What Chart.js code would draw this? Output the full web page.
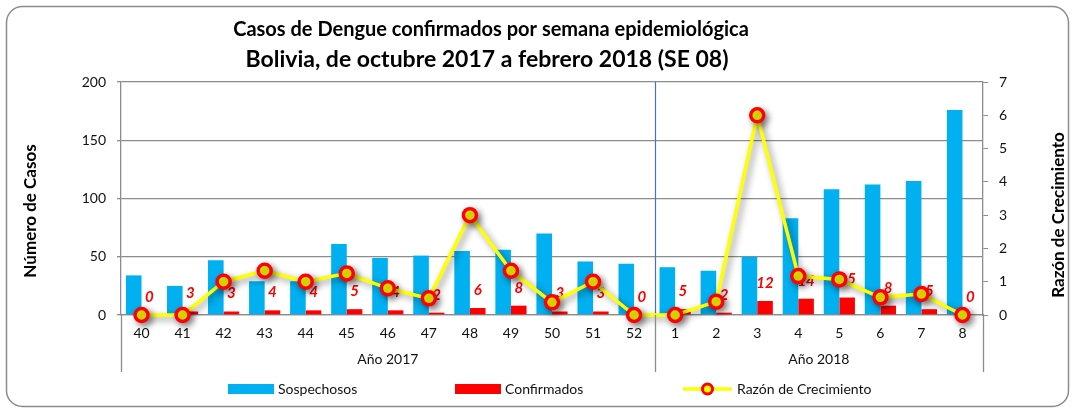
<!DOCTYPE html>
<html>
<head>
<meta charset="utf-8">
<script src="https://cdn.jsdelivr.net/npm/chart.js@4/dist/chart.umd.min.js"></script>
<style>
html,body{margin:0;padding:0;background:#fff;}
#wrap{width:1075px;height:410px;position:relative;}
</style>
</head>
<body>
<div id="wrap"><canvas id="c" width="1075" height="410"></canvas></div>
<script>
// ---- data ----
const weeks = ['40','41','42','43','44','45','46','47','48','49','50','51','52','1','2','3','4','5','6','7','8'];
const sospechosos = [34,25,47,29,29,61,49,51,55,56,70,46,44,41,38,50,83,108,112,115,176];
const confirmados = [0,3,3,4,4,5,4,2,6,8,3,3,0,5,2,12,14,15,8,5,0];
const razon = [0,0,1,1.33,1,1.25,0.8,0.5,3,1.33,0.38,1,0,0,0.4,6,1.17,1.07,0.53,0.63,0];
const yearGroups = [
  {label:'Año 2017', from:0, to:12},
  {label:'Año 2018', from:13, to:20}
];
const leftTicks = {min:0, max:200, step:50};
const rightTicks = {min:0, max:7, step:1};
const titleLines = ['Casos de Dengue confirmados por semana epidemiológica','Bolivia, de octubre 2017 a febrero 2018 (SE 08)'];
const yTitle = 'Número de Casos';
const y1Title = 'Razón de Crecimiento';

const FONT = 'Lato, "Liberation Sans", Arial, sans-serif';
const BLUE = '#00B0F0', RED = '#FF0000', YELLOW = '#FFFF00', GRID = '#8c8c8c', TXT = '#111';

const extras = {
  id: 'extras',
  beforeDraw(chart) {
    const ctx = chart.ctx;
    ctx.save();
    ctx.strokeStyle = '#8c8c8c';
    ctx.lineWidth = 1.5;
    ctx.beginPath();
    ctx.roundRect(6.5, 6.5, 1062, 400, 16);
    ctx.stroke();
    ctx.restore();
  },
  beforeDatasetsDraw(chart) {
    const ctx = chart.ctx, x = chart.scales.x, a = chart.chartArea;
    ctx.save();
    ctx.strokeStyle = '#4A72C0';
    ctx.lineWidth = 1.2;
    for (let g = 0; g < yearGroups.length - 1; g++) {
      const px = Math.round((x.getPixelForValue(yearGroups[g].to) + x.getPixelForValue(yearGroups[g+1].from)) / 2) + 0.5;
      ctx.beginPath(); ctx.moveTo(px, a.top); ctx.lineTo(px, a.bottom); ctx.stroke();
    }
    ctx.restore();
  },
  beforeDatasetDraw(chart, args) {
    if (args.index === 2) {
      const ctx = chart.ctx;
      const meta = chart.getDatasetMeta(1);
      ctx.save();
      ctx.fillStyle = RED;
      ctx.font = 'italic bold 15px ' + FONT;
      ctx.textAlign = 'center';
      ctx.textBaseline = 'middle';
      meta.data.forEach((bar, i) => {
        ctx.fillText(String(confirmados[i]), bar.x, bar.y - 18);
      });
      ctx.restore();
      ctx.save();
      ctx.shadowColor = 'rgba(0,0,0,0.45)';
      ctx.shadowBlur = 7;
      ctx.shadowOffsetX = 3;
      ctx.shadowOffsetY = 3;
    }
  },
  afterDatasetDraw(chart, args) {
    if (args.index === 2) chart.ctx.restore();
  },
  afterDraw(chart) {
    const ctx = chart.ctx, x = chart.scales.x, a = chart.chartArea;
    ctx.save();
    ctx.fillStyle = '#000';
    ctx.textAlign = 'center';
    ctx.textBaseline = 'middle';
    ctx.font = 'bold 20px ' + FONT;
    ctx.fillText(titleLines[0], 491, 30);
    ctx.font = 'bold 23px ' + FONT;
    ctx.fillText(titleLines[1], 487, 60);
    ctx.font = 'bold 17px ' + FONT;
    ctx.save(); ctx.translate(31, 211); ctx.rotate(-Math.PI/2); ctx.fillText(yTitle, 0, 0); ctx.restore();
    ctx.save(); ctx.translate(1059, 215); ctx.rotate(-Math.PI/2); ctx.fillText(y1Title, 0, 0); ctx.restore();
    ctx.strokeStyle = GRID; ctx.lineWidth = 1.3;
    const bounds = [a.left];
    for (let g = 0; g < yearGroups.length - 1; g++) {
      bounds.push((x.getPixelForValue(yearGroups[g].to) + x.getPixelForValue(yearGroups[g+1].from)) / 2);
    }
    bounds.push(a.right);
    bounds.forEach(b => {
      const px = Math.round(b) + 0.5;
      ctx.beginPath(); ctx.moveTo(px, a.bottom); ctx.lineTo(px, a.bottom + 57); ctx.stroke();
    });
    ctx.font = '14px ' + FONT;
    ctx.fillStyle = TXT;
    yearGroups.forEach((g, i) => {
      ctx.fillText(g.label, (bounds[i] + bounds[i+1]) / 2, 359);
    });
    const ly = 389;
    ctx.textAlign = 'left';
    ctx.font = '14px ' + FONT;
    const ds = chart.data.datasets;
    ctx.fillStyle = ds[0].backgroundColor; ctx.fillRect(228, ly - 5, 46, 10);
    ctx.fillStyle = TXT; ctx.fillText(ds[0].label, 278, ly);
    ctx.fillStyle = ds[1].backgroundColor; ctx.fillRect(455, ly - 5, 46, 10);
    ctx.fillStyle = TXT; ctx.fillText(ds[1].label, 505, ly);
    ctx.strokeStyle = ds[2].borderColor; ctx.lineWidth = 3.5;
    ctx.beginPath(); ctx.moveTo(683, ly); ctx.lineTo(732, ly); ctx.stroke();
    ctx.beginPath(); ctx.arc(707.5, ly, 5, 0, Math.PI*2);
    ctx.fillStyle = YELLOW; ctx.fill();
    ctx.strokeStyle = RED; ctx.lineWidth = 3; ctx.stroke();
    ctx.fillStyle = TXT; ctx.fillText(ds[2].label, 737, ly);
    ctx.restore();
  }
};

new Chart(document.getElementById('c'), {
  data: {
    labels: weeks,
    datasets: [
      { type:'bar', label:'Sospechosos', data:sospechosos, backgroundColor:BLUE, yAxisID:'y', order:1,
        categoryPercentage:0.76, barPercentage:1 },
      { type:'bar', label:'Confirmados', data:confirmados, backgroundColor:RED, yAxisID:'y', order:2,
        categoryPercentage:0.76, barPercentage:1 },
      { type:'line', label:'Razón de Crecimiento', data:razon, yAxisID:'y1', order:0,
        borderColor:YELLOW, borderWidth:3.5, pointRadius:6.5, pointBorderWidth:3.5,
        pointBackgroundColor:YELLOW, pointBorderColor:RED, tension:0, clip:false }
    ]
  },
  options: {
    responsive:false,
    animation:false,
    events:[],
    layout:{ padding:{ top:82, left:0, right:0, bottom:0 } },
    plugins:{ legend:{display:false}, tooltip:{enabled:false}, title:{display:false} },
    scales:{
      x:{
        grid:{display:false, drawTicks:false},
        border:{display:true, color:GRID, width:1.3},
        ticks:{color:TXT, font:{family:FONT, size:14}, padding:10, maxRotation:0, autoSkip:false},
        afterFit(s){ s.height = 95; }
      },
      y:{
        position:'left', min:leftTicks.min, max:leftTicks.max,
        ticks:{stepSize:leftTicks.step, color:TXT, font:{family:FONT, size:14}, padding:11},
        grid:{color:GRID, lineWidth:1.3, tickLength:4},
        border:{display:true, color:GRID, width:1.3},
        afterFit(s){ s.width = 121; }
      },
      y1:{
        position:'right', min:rightTicks.min, max:rightTicks.max,
        ticks:{stepSize:rightTicks.step, color:TXT, font:{family:FONT, size:14}, padding:11},
        grid:{drawOnChartArea:false, color:GRID, tickLength:5},
        border:{display:true, color:GRID, width:1.3},
        afterFit(s){ s.width = 92; }
      }
    }
  },
  plugins:[extras]
});
</script>
</body>
</html>
